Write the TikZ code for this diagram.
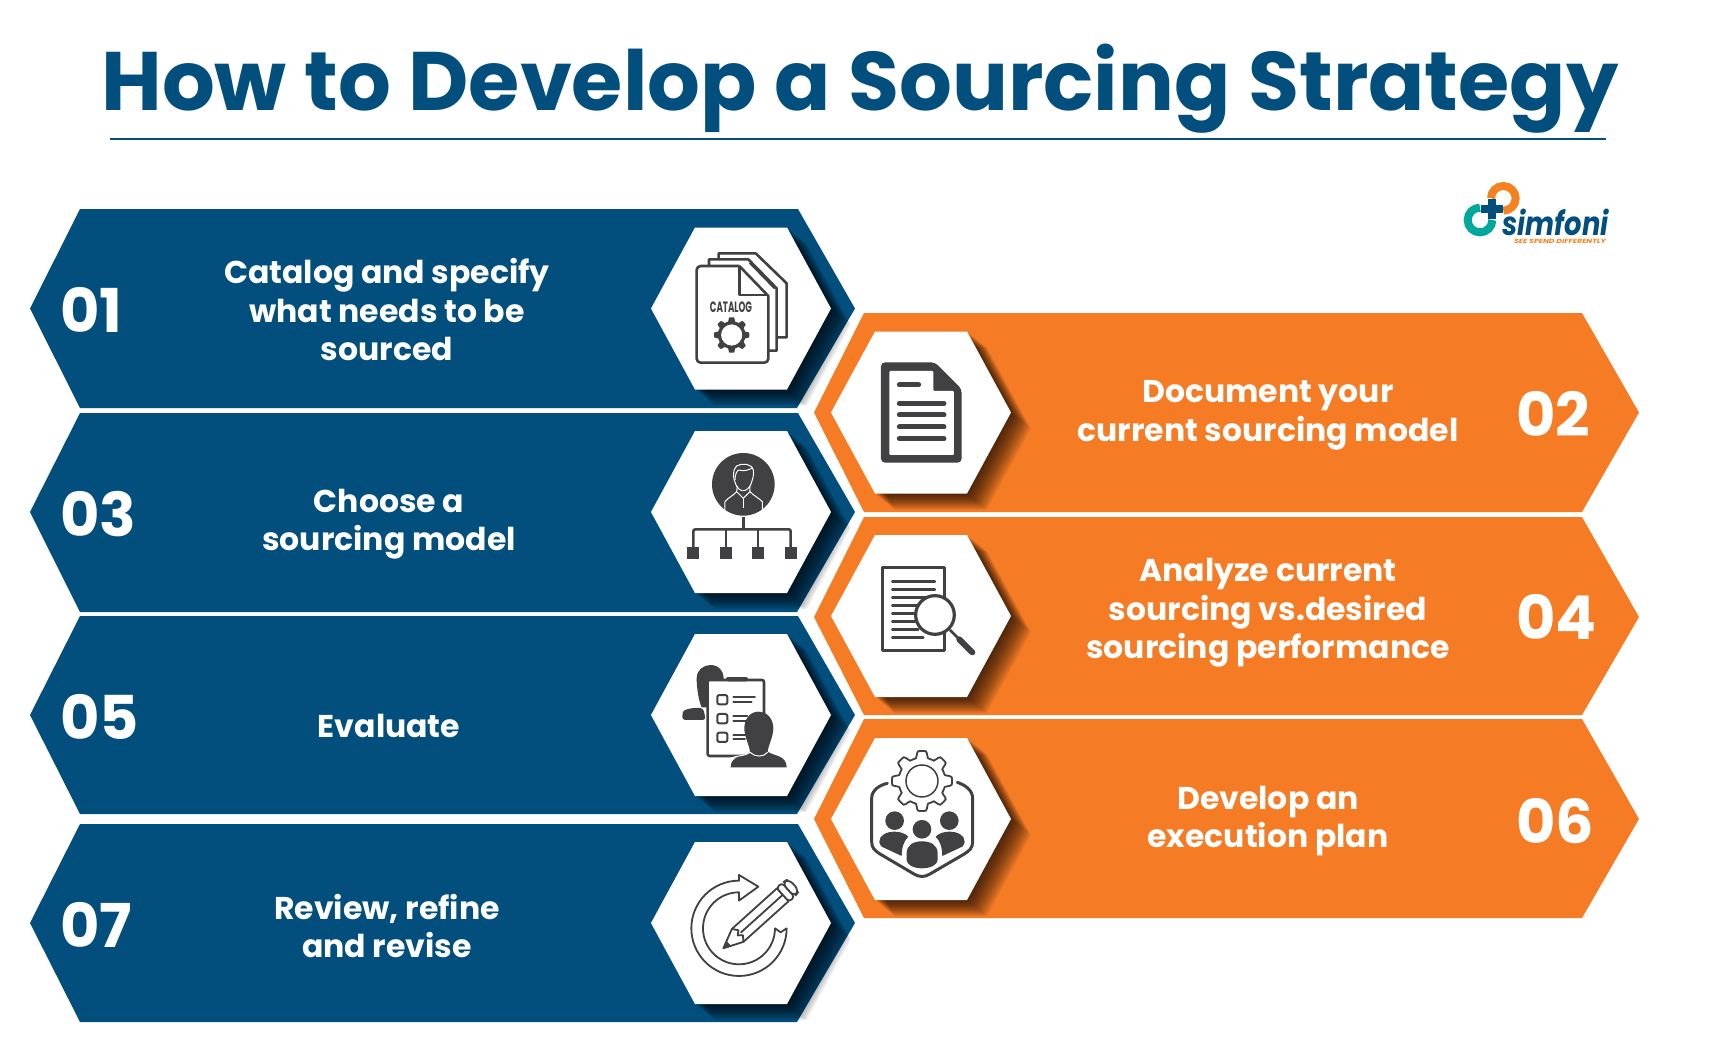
\documentclass[tikz,border=0pt]{standalone}
\usepackage{fontspec}
\setmainfont{Poppins}
\usetikzlibrary{positioning,calc}
\definecolor{navy}{HTML}{024F7D}
\definecolor{tangerine}{HTML}{F57B24}
\definecolor{iconink}{HTML}{414042}
\definecolor{logoteal}{HTML}{00A79D}
\definecolor{logoorange}{HTML}{F58220}
\newcommand{\hexpath}[2]{({#1-90},{#2}) -- ({#1-46},{#2-81}) -- ({#1+46},{#2-81}) -- ({#1+90},{#2}) -- ({#1+46},{#2+81}) -- ({#1-46},{#2+81}) -- cycle}
\newcommand{\hexcell}[2]{%
\foreach \d in {1,...,18}{\fill[black,opacity=0.055] \hexpath{#1+1.1*\d}{#2+0.9*\d};}
\fill[white] \hexpath{#1}{#2};}
\newcommand{\gearplot}[3]{plot[domain=0:360,samples=145] ({#1+#3*(0.89+0.11*max(-1,min(1,2.5*cos(8*\x))))*cos(\x)},{#2+#3*(0.89+0.11*max(-1,min(1,2.5*cos(8*\x))))*sin(\x)}) -- cycle}
\begin{document}
\begin{tikzpicture}[x=1pt,y=-1pt,
navyband/.style={fill=navy},
orangeband/.style={fill=tangerine},
steplabel/.style={text=white,font=\fontsize{31.5}{38.5}\selectfont\bfseries,align=center,inner sep=0pt},
stepnumber/.style={text=white,font=\fontsize{60.5}{60}\selectfont\bfseries,anchor=west,inner sep=0pt},
inkline/.style={draw=iconink,line width=2.6pt,line join=round},
inkbar/.style={draw=iconink,line width=5pt,line cap=round},
inkthin/.style={draw=iconink,line width=1.7pt,line cap=round},
inkfill/.style={fill=iconink},
whiteline/.style={draw=white,line width=1pt,line join=round},
zoomone/.style={shift={(620,190)},x=0.3333pt,y=-0.3333pt},
zoomtwo/.style={shift={(640,420)},x=0.3333pt,y=-0.3333pt},
zoomthree/.style={shift={(640,620)},x=0.3333pt,y=-0.3333pt},
zoomlogo/.style={shift={(1440,170)},x=0.3333pt,y=-0.3333pt}]
\useasboundingbox (0,0) rectangle (1714,1055);

\node (title) at (860,89) [text=navy,font=\fontsize{83}{83}\selectfont\bfseries,inner sep=0pt] {How to Develop a Sourcing Strategy};
\coordinate (ruleL) at (110,139);
\coordinate (ruleR) at (1606,139);
\draw [navy,line width=2.6pt] (ruleL) -- (ruleR);

\fill [navyband] (30,308.5) -- (80,209) -- (798,209) -- (855,308.5) -- (797,408) -- (80,408) -- cycle;
\fill [navyband] (30,512) -- (80,413) -- (798,413) -- (855,512) -- (797,612) -- (80,612) -- cycle;
\fill [navyband] (30,715) -- (80,616) -- (798,616) -- (855,715) -- (797,814) -- (80,814) -- cycle;
\fill [navyband] (30,923) -- (80,824) -- (798,824) -- (855,923) -- (797,1022) -- (80,1022) -- cycle;
\fill [orangeband] (814,412.5) -- (864,313) -- (1582,313) -- (1639,412.5) -- (1582,512) -- (864,512) -- cycle;
\fill [orangeband] (814,617) -- (864,517) -- (1582,517) -- (1639,617) -- (1582,715) -- (864,715) -- cycle;
\fill [orangeband] (814,819) -- (864,719) -- (1582,719) -- (1639,819) -- (1582,918) -- (864,918) -- cycle;

\hexcell{741}{308.5}
\hexcell{741}{512}
\hexcell{741}{715}
\hexcell{741}{923}
\hexcell{921}{412.5}
\hexcell{921}{616}
\hexcell{921}{819}

\node (num1) at (60,310) [stepnumber] {01};
\node (num3) at (60,514) [stepnumber] {03};
\node (num5) at (60,717) [stepnumber] {05};
\node (num7) at (60,925) [stepnumber] {07};
\node (num2) at (1516,414) [stepnumber] {02};
\node (num4) at (1516,617) [stepnumber] {04};
\node (num6) at (1516,821) [stepnumber] {06};

\node (step1) at (387,310) [steplabel] {Catalog and specify\\what needs to be\\sourced};
\node (step3) at (389,524) [steplabel] {Choose a\\sourcing model};
\node (step5) at (389,726) [steplabel] {Evaluate};
\node (step7) at (387,926) [steplabel] {Review, refine\\and revise};
\node (step2) at (1268,415.5) [steplabel] {Document your\\current sourcing model};
\node (step4) at (1268,613) [steplabel] {Analyze current\\sourcing vs.desired\\sourcing performance};
\node (step6) at (1268,821) [steplabel] {Develop an\\execution plan};

\begin{scope}[zoomone]
\draw [inkline] (296,208) -- (296,190) -- (407,190) -- (500,280) -- (500,442) -- (470,442);
\draw [inkline] (390,218) -- (465,295);
\draw [inkline] (267,225) -- (267,208) -- (385,208) -- (470,295) -- (470,482) -- (447,482);
\draw [inkline] (358,228) -- (445,318) -- (445,500) [rounded corners=4pt] -- (445,518) -- (230,518) -- (230,228) -- (358,228);
\draw [inkline] (358,228) -- (358,315) -- (445,315);
\node (catalogword) at (333,352) [text=iconink,font=\fontsize{15}{15}\selectfont\bfseries,xscale=0.58,inner sep=0pt] {CATALOG};
\fill [inkfill,even odd rule] \gearplot{335}{435}{53} (335,435) circle[radius=32];

\fill [inkfill,rounded corners=4pt] (783,517) -- (945,517) -- (1025,597) -- (1025,818) -- (783,818) -- cycle;
\fill [white,rounded corners=1pt] (808,543) -- (940,543) -- (940,603) -- (1002,603) -- (1002,795) -- (808,795) -- cycle;
\draw [inkbar] (838,585) -- (896,585);
\draw [inkbar] (838,640) -- (972,640);
\draw [inkbar] (838,675) -- (972,675);
\draw [inkbar] (838,711) -- (972,711);
\draw [inkbar] (838,746) -- (972,746);
\end{scope}

\begin{scope}[zoomtwo]
\fill [inkfill] (310,193) circle[radius=94];
\draw [whiteline] (287,192) .. controls (279,175) and (276,150) .. (290,138) .. controls (305,128) and (335,130) .. (340,150) .. controls (343,165) and (337,180) .. (333,192) .. controls (328,205) and (318,212) .. (310,212) .. controls (300,212) and (292,205) .. (287,192);
\draw [whiteline] (285,180) .. controls (285,165) and (290,150) .. (298,150) .. controls (310,155) and (325,150) .. (335,145);
\draw [whiteline] (292,198) -- (290,215) -- (310,235) -- (330,215) -- (330,198);
\draw [whiteline] (255,270) -- (255,245) .. controls (262,235) and (278,228) .. (290,215);
\draw [whiteline] (367,270) -- (367,245) .. controls (358,235) and (342,228) .. (330,215);
\draw [whiteline] (310,235) -- (310,265);
\draw [inkline,rounded corners=2pt] (160,381) -- (160,328) -- (452,328) -- (452,381);
\draw [inkline] (310,290) -- (310,328);
\draw [inkline] (258,328) -- (258,381);
\draw [inkline] (354,328) -- (354,381);
\fill [inkfill] (142,381) rectangle (178,418);
\fill [inkfill] (240,381) rectangle (276,418);
\fill [inkfill] (336,381) rectangle (372,418);
\fill [inkfill] (434,381) rectangle (470,418);

\draw [inkline,fill=white] (728,443) rectangle (913,692);
\draw [inkthin,line width=2.4pt] (757,485) -- (885,485);
\draw [inkthin,line width=2.4pt] (757,508) -- (885,508);
\draw [inkthin,line width=2.4pt] (757,532) -- (885,532);
\draw [inkthin,line width=2.4pt] (757,556) -- (830,556);
\draw [inkthin,line width=2.4pt] (757,580) -- (825,580);
\draw [inkthin,line width=2.4pt] (757,604) -- (825,604);
\draw [inkthin,line width=2.4pt] (757,628) -- (835,628);
\draw [inkthin,line width=2.4pt] (757,652) -- (850,652);
\draw [inkline,line width=3.2pt,fill=white] (885,585) circle[radius=58];
\draw [inkline] (930,630) -- (958,658);
\draw [inkbar,line width=6pt] (958,658) -- (997,697);
\end{scope}

\begin{scope}[zoomthree]
\fill [inkfill] (170,175) .. controls (170,150) and (190,135) .. (212,135) .. controls (240,135) and (255,160) .. (250,185) -- (205,185) -- (205,262) -- (185,262) .. controls (175,240) and (170,200) .. (170,175);
\fill [inkfill,rounded corners=3pt] (127,300) -- (127,285) .. controls (130,268) and (160,262) .. (190,265) -- (197,300) -- cycle;
\draw [inkline,fill=white,rounded corners=2pt] (203,180) rectangle (372,408);
\fill [inkfill,rounded corners=2pt] (258,171) rectangle (324,184);
\draw [inkline,line width=2pt,rounded corners=2pt] (232,225) rectangle (262,253);
\draw [inkline,line width=2pt,rounded corners=2pt] (232,282) rectangle (262,310);
\draw [inkline,line width=2pt,rounded corners=2pt] (232,338) rectangle (262,366);
\draw [inkthin] (280,230) -- (345,230);
\draw [inkthin] (280,245) -- (335,245);
\draw [inkthin] (280,287) -- (322,287);
\draw [inkthin] (280,303) -- (320,303);
\draw [inkthin] (280,345) -- (315,345);
\draw [inkthin] (280,358) -- (315,358);
\fill [inkfill] (355,275) .. controls (385,275) and (400,300) .. (400,325) .. controls (400,350) and (385,375) .. (383,395) .. controls (400,408) and (440,405) .. (440,442) -- (272,442) .. controls (272,405) and (315,410) .. (330,395) .. controls (328,375) and (313,350) .. (313,325) .. controls (313,300) and (328,275) .. (355,275) -- cycle;
\draw [whiteline] (272,415) .. controls (290,405) and (315,410) .. (330,397) .. controls (345,412) and (370,412) .. (383,397);

\draw [inkline,line width=1.8pt] \gearplot{846}{483}{90};
\draw [inkline,line width=1.5pt] (846,483) circle[radius=48];
\draw [inkline,line cap=round,line width=3pt] (742,490) .. controls (720,495) and (695,510) .. (695,535) -- (695,665) .. controls (695,685) and (705,692) .. (720,702) -- (822,762) .. controls (838,772) and (854,772) .. (870,762) -- (973,702) .. controls (988,692) and (998,685) .. (998,665) -- (998,535) .. controls (998,510) and (975,495) .. (952,487);
\fill [inkfill] (846,628) circle[radius=28];
\fill [inkfill] (800,700) .. controls (800,675) and (820,664) .. (846,664) .. controls (872,664) and (893,675) .. (893,700) -- (893,720) .. controls (893,735) and (870,745) .. (846,745) .. controls (822,745) and (800,735) .. (800,720) -- cycle;
\fill [inkfill] (764,602) circle[radius=28];
\fill [inkfill] (718,665) .. controls (718,645) and (740,635) .. (764,635) .. controls (780,635) and (795,640) .. (805,650) .. controls (790,665) and (785,685) .. (785,708) -- (725,680) .. controls (720,675) and (718,670) .. (718,665);
\fill [inkfill] (928,602) circle[radius=28];
\fill [inkfill] (974,665) .. controls (974,645) and (952,635) .. (928,635) .. controls (912,635) and (897,640) .. (887,650) .. controls (902,665) and (907,685) .. (907,708) -- (967,680) .. controls (972,675) and (974,670) .. (974,665);

\draw [inkline,line width=1.8pt] (297,782) arc[start angle=270,end angle=0,radius=143] -- (422,937) -- (405,925) arc[start angle=0,end angle=270,radius=108] -- (297,842) -- (355,800) -- (297,765) -- cycle;
\begin{scope}[shift={(250,985)},rotate=42]
\draw [inkline,line width=1.8pt,fill=white] (0,0) -- (58,-26) -- (240,-26) -- (240,26) -- (58,26) -- cycle;
\draw [inkline,line width=1.8pt] (58,-26) -- (70,-10) -- (58,0) -- (70,10) -- (58,26);
\fill [inkfill] (0,0) -- (22,-10) -- (22,10) -- cycle;
\draw [inkline,line width=1.8pt] (70,0) -- (240,0);
\draw [inkline,line width=1.8pt,fill=white,rounded corners=3pt] (240,-28) rectangle (262,28);
\draw [inkline,line width=1.8pt,fill=white,rounded corners=6pt] (262,-28) -- (285,-24) -- (285,24) -- (262,28) -- cycle;
\end{scope}
\end{scope}

\begin{scope}[zoomlogo]
\draw [logoteal,line width=8pt] (120,113) arc[start angle=270,end angle=0,radius=37];
\draw [logoorange,line width=8pt] (153,85) arc[start angle=180,end angle=450,radius=37];
\draw [navy,line width=8pt] (122,116) -- (188,116);
\draw [navy,line width=8pt] (155,87) -- (155,148);
\node (logoname) at (347,157) [text=navy,font=\fontsize{33}{33}\selectfont\bfseries\itshape,xscale=0.83,inner sep=0pt] {simfoni};
\node (logotag) at (360,214) [text=logoorange,font=\fontsize{6}{6}\selectfont\bfseries\itshape,xscale=1.3,inner sep=0pt] {SEE SPEND DIFFERENTLY};
\end{scope}
\end{tikzpicture}
\end{document}
